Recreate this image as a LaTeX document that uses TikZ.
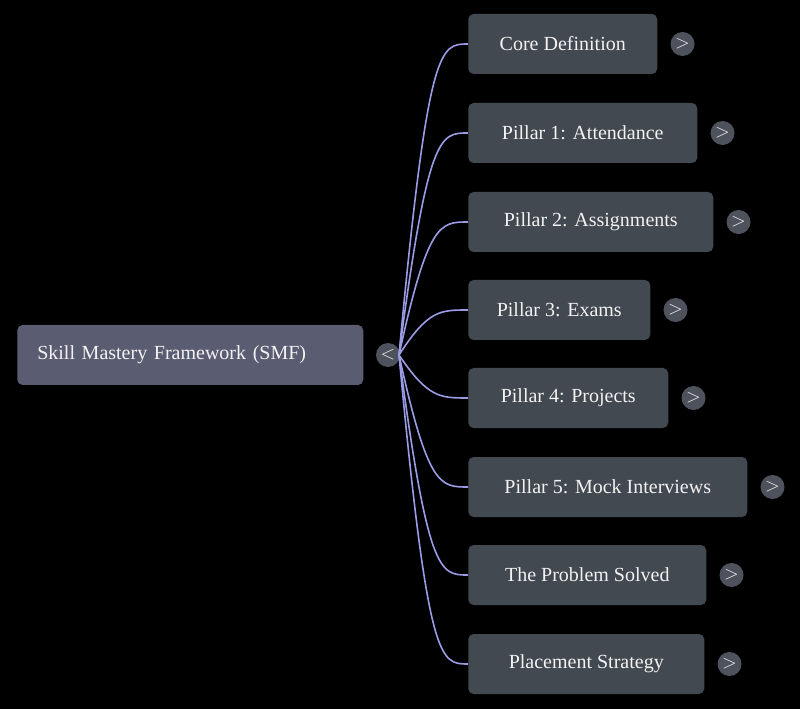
\documentclass[tikz,border=0pt]{standalone}
\usepackage{fontspec}
\setmainfont{Liberation Serif}
\usepackage{tikz}
\usetikzlibrary{positioning}
\definecolor{rootfill}{HTML}{5A5C72}
\definecolor{boxfill}{HTML}{434951}
\definecolor{togfill}{HTML}{4E525C}
\definecolor{linkcol}{HTML}{9A9CE6}
\definecolor{txtcol}{HTML}{F2F2F2}
\tikzset{
  topic/.style={draw=none,fill=boxfill,rounded corners=4pt,minimum height=45pt,
    text=txtcol,font=\fontsize{15}{15}\selectfont,anchor=west,inner xsep=15pt},
  root/.style={topic,fill=rootfill,minimum width=259.5pt,align=left,text width=229.5pt},
  toggle/.style={circle,fill=togfill,minimum size=18pt,inner sep=0pt,text=txtcol,
    font=\fontsize{15}{15}\selectfont},
  link/.style={draw=linkcol,line width=1.2pt}
}
\begin{document}
\begin{tikzpicture}[x=0.75pt,y=-0.75pt]
\fill[black] (0,0) rectangle (800,709);
\useasboundingbox (0,0) rectangle (800,709);

\node[root] (smf) at (17,355) {Skill Mastery Framework (SMF)};
\node[toggle] (t0) at (388,355) {$<$};
\coordinate (hub) at (399,355);

% children: name / y / width / text
\foreach \n/\y/\w/\t in {c1/44/189/Core Definition,
  c2/133/229/Pillar 1: Attendance,
  c3/222/245/Pillar 2: Assignments,
  c4/310/182/Pillar 3: Exams,
  c5/398/200/Pillar 4: Projects,
  c6/487/279/Pillar 5: Mock Interviews,
  c7/575/238/The Problem Solved,
  c8/664/236/Placement Strategy}{
  \node[topic,minimum width=\w*0.75pt] (\n) at (468,\y) {\t};
  \node[toggle] (\n t) at ([xshift=25*0.75pt]\n.east) {$>$};
  \path[link] (hub) .. controls (428,\y) and (440,\y) .. (\n.west);
}
\end{tikzpicture}
\end{document}
